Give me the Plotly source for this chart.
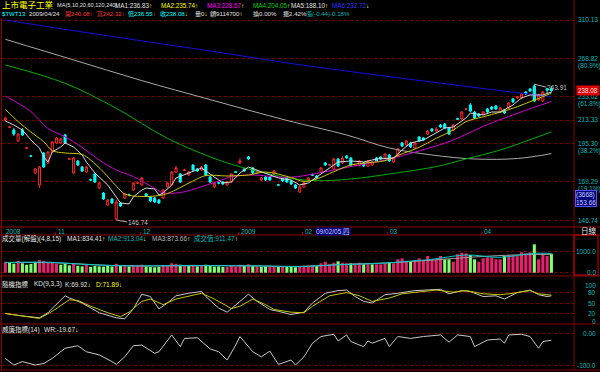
import math
import plotly.graph_objects as go

W, H = 600, 372

# ---------------- data ----------------
opens = [213.33, 207.6, 205.49, 197.22, 205.49, 191.9, 186.5, 174.96, 167.28, 188.56,
         181.63, 189.26, 195.75, 195.75, 201.69, 184.2, 174.96, 183.00, 178.93, 175.62,
         170.6, 174.31, 165.41, 162.35, 155.21, 158.75, 147.30, 156.39, 159.34, 161.2,
         164.17, 168.4, 167.28, 161.74, 159.94, 159.34, 158.15, 159.34, 166.04, 167.28,
         175.62, 174.31, 176.8, 173.65, 180.27, 177.6, 176.93, 180.27, 172.36, 166.04,
         168.7, 169.17, 167.28, 169.17, 175.8, 181.63, 177.6, 185.8, 178.27, 174.96,
         170.43, 172.36, 172.36, 174.31, 167.4, 171.07, 171.72, 169.80, 167.28, 162.95,
         166.04, 170.43, 173.8, 173.01, 175.62, 181.63, 180.2, 177.60, 184.37, 181.63,
         186.4, 185.06, 180.2, 180.27, 181.63, 179.60, 180.27, 185.06, 185.8, 185.06,
         187.14, 182.32, 186.45, 195.75, 194.28, 195.75, 192.12, 200.19, 199.44, 202.45,
         206.27, 204.73, 209.38, 210.17, 207.04, 205.49, 214.3, 214.13, 222.2, 225.64,
         219.81, 218.18, 218.18, 222.29, 223.96, 224.80, 219.81, 221.46, 223.13, 230.78,
         231.64, 231.64, 236.90, 239.57, 242.27, 229.91, 229.06, 239.80, 240.08]
highs = [215.74, 208.60, 207.04, 203.21, 207.04, 193.0, 187.2, 178.27, 179.60, 189.26,
         189.97, 197.22, 200.19, 199.44, 202.45, 185.1, 185.76, 183.68, 179.60, 179.60,
         171.4, 174.96, 169.17, 162.95, 158.75, 159.34, 158.15, 156.98, 162.35, 162.0,
         169.17, 169.5, 172.36, 162.35, 160.53, 159.94, 158.75, 164.79, 169.17, 176.27,
         179.60, 174.96, 177.8, 176.27, 180.95, 178.3, 179.60, 180.95, 173.01, 169.17,
         169.3, 169.80, 169.80, 174.96, 176.3, 185.06, 178.3, 186.5, 178.93, 176.9,
         172.36, 173.01, 173.01, 176.93, 168.0, 171.7, 172.36, 170.43, 167.91, 166.66,
         169.17, 172.36, 174.6, 173.65, 178.93, 182.32, 181.0, 185.06, 185.06, 186.45,
         187.1, 185.76, 181.2, 183.68, 182.32, 183.68, 183.00, 185.76, 186.5, 188.56,
         187.85, 185.76, 192.12, 196.48, 197.95, 196.48, 196.48, 200.94, 200.19, 205.49,
         207.04, 207.82, 210.17, 210.96, 207.82, 210.17, 215.2, 220.63, 223.1, 227.35,
         220.63, 219.0, 220.63, 223.13, 224.80, 225.64, 223.96, 222.29, 228.20, 231.64,
         233.38, 236.01, 237.78, 240.47, 243.91, 235.13, 237.78, 240.20, 242.32]
lows = [212.54, 207.04, 200.94, 196.48, 200.94, 191.2, 185.8, 174.31, 165.41, 178.27,
        180.95, 188.56, 195.01, 195.01, 195.01, 183.7, 174.31, 179.60, 175.62, 174.96,
        169.6, 168.54, 164.79, 158.15, 154.64, 155.80, 146.74, 154.06, 158.75, 160.3,
        163.56, 167.9, 166.66, 159.94, 156.98, 156.39, 155.80, 158.75, 165.41, 166.66,
        174.96, 168.54, 176.2, 173.01, 176.27, 175.6, 176.27, 173.01, 168.54, 165.41,
        167.8, 167.28, 166.66, 168.54, 175.0, 180.95, 175.6, 183.7, 174.31, 174.3,
        169.80, 169.80, 169.80, 173.65, 166.5, 169.2, 168.54, 167.28, 164.79, 162.35,
        165.41, 169.80, 172.9, 171.07, 174.96, 179.60, 179.6, 176.93, 178.93, 180.95,
        184.4, 179.60, 179.6, 179.60, 178.93, 178.93, 179.60, 182.32, 183.7, 184.37,
        182.32, 181.63, 185.76, 192.84, 193.56, 192.12, 191.40, 196.48, 197.22, 201.69,
        203.97, 203.97, 207.04, 206.27, 201.69, 204.73, 213.3, 213.33, 221.5, 219.81,
        214.13, 215.7, 217.36, 218.99, 221.46, 221.46, 218.99, 218.18, 222.29, 227.35,
        230.78, 230.78, 234.25, 236.90, 228.20, 229.06, 228.20, 235.13, 236.55]
closes = [214.94, 207.8, 202.45, 202.45, 201.69, 192.1, 186.3, 177.60, 178.93, 178.93,
          189.26, 196.48, 199.44, 198.70, 195.75, 184.4, 185.06, 180.27, 176.27, 178.93,
          170.4, 169.17, 168.54, 158.75, 158.15, 156.39, 156.98, 154.64, 161.74, 161.0,
          168.54, 168.6, 171.72, 160.53, 157.56, 156.98, 156.39, 164.17, 168.54, 175.62,
          178.27, 169.17, 177.0, 175.62, 176.93, 176.3, 178.93, 173.65, 169.17, 168.54,
          168.4, 167.91, 169.17, 174.31, 175.5, 183.00, 176.3, 184.4, 174.96, 176.27,
          171.72, 170.43, 170.43, 176.27, 167.2, 169.80, 169.17, 167.91, 165.41, 166.04,
          168.54, 171.72, 173.5, 171.72, 178.27, 180.27, 180.4, 184.37, 179.60, 185.06,
          185.1, 180.27, 180.4, 183.00, 179.60, 183.00, 182.32, 183.00, 184.4, 187.85,
          183.00, 185.06, 191.40, 193.56, 197.22, 192.84, 195.75, 197.22, 197.95, 204.73,
          204.73, 206.27, 207.82, 207.04, 202.45, 209.38, 214.0, 219.81, 222.4, 220.63,
          214.94, 216.55, 219.81, 219.81, 222.29, 222.29, 223.13, 218.99, 227.35, 228.20,
          232.51, 235.13, 235.13, 237.78, 229.06, 234.25, 236.90, 238.52, 238.08]

# moving averages (bar index, price)
ma5_x = [0, 2, 4, 6, 8, 9, 10, 11, 13, 14, 16, 18, 19, 21, 24, 26, 27, 29, 30, 32, 33, 35, 36, 37,
         39, 40, 43, 45, 46, 49, 51, 53, 55, 57, 60, 62, 64, 67, 69, 71, 73, 76, 78, 81, 84, 87,
         91, 93, 95, 98, 101, 103, 105, 108, 109, 112, 114, 116, 119, 121, 123, 126, 128]
ma5_y = [212.54, 209.38, 205.49, 197.95, 192.12, 185.76, 182.32, 189.26, 192.84, 195.75, 192.84,
         187.14, 182.32, 174.96, 167.28, 159.94, 156.39, 155.80, 159.94, 164.17, 165.41, 164.79,
         161.13, 162.35, 167.28, 171.72, 174.96, 176.93, 178.27, 172.36, 168.54, 169.17, 174.96,
         178.93, 175.62, 173.65, 171.72, 170.43, 167.28, 168.54, 172.36, 178.27, 182.32, 183.00,
         182.32, 184.37, 185.06, 190.68, 195.75, 197.95, 203.21, 207.04, 207.82, 214.94, 218.99,
         217.36, 219.81, 219.81, 225.64, 231.64, 234.25, 234.25, 236.83]
ma10_x = [0, 3, 6, 9, 11, 14, 18, 20, 23, 26, 28, 32, 36, 38, 41, 44, 47, 52, 57, 61, 67, 70, 73,
          77, 81, 85, 89, 93, 97, 101, 105, 108, 112, 116, 120, 124, 128]
ma10_y = [222.1, 212.0, 203.97, 196.7, 190.3, 188.56, 187.5, 183.68, 175.62, 166.66, 161.74, 160.2,
          160.8, 162.0, 165.7, 169.8, 173.3, 173.0, 173.65, 175.6, 172.0, 169.5, 171.07, 175.8,
          180.27, 181.8, 183.2, 188.0, 192.6, 199.2, 205.49, 212.0, 215.9, 219.6, 224.2, 229.9,
          235.74]
ma20_x = [0, 6, 10, 14, 18, 22, 26, 30, 35, 37, 41, 46, 50, 53, 58, 63, 67, 73, 81, 89, 97, 105,
          112, 120, 128]
ma20_y = [233.4, 220.1, 206.6, 200.4, 192.6, 183.68, 176.93, 172.6, 165.2, 162.5, 162.6, 166.2,
          169.8, 172.6, 173.65, 172.6, 172.2, 174.7, 179.2, 183.68, 189.97, 197.95, 208.3, 218.7,
          228.67]
ma60_x = [0, 14, 26, 38, 50, 57, 67, 73, 81, 91, 101, 108, 116, 128]
ma60_y = [262.1, 244.73, 222.9, 199.2, 183.68, 177.6, 171.5, 170.0, 171.07, 174.7, 179.2, 184.4,
          190.68, 204.05]
ma120_x = [0, 16, 32, 48, 66, 80, 90, 100, 110, 120, 128]
ma120_y = [288.5, 267.1, 247.2, 230.25, 213.0, 201.69, 192.12, 187.14, 184.37, 184.7, 188.10]
ma240_x = [0, 16, 32, 48, 66, 80, 96, 112, 128]
ma240_y = [310.13, 297.96, 286.8, 276.2, 264.2, 256.2, 247.86, 240.0, 232.72]

volume = [520, 480, 430, 560, 450, 380, 420, 480, 600, 560, 480, 520,
          430, 380, 420, 350, 460, 330, 300, 360, 280, 320, 300, 290, 340, 300, 420, 330, 310, 300,
          360, 330,
          380, 300, 280, 260, 280, 360, 330, 450, 420, 380, 330, 340, 380, 300, 330, 380, 320, 290,
          300, 270, 280, 330, 300,
          380, 330, 400, 330, 300, 280, 300, 290, 320, 270, 280, 300, 290, 260,
          286, 333, 333, 367, 319, 448, 524, 400, 476, 543, 476, 448, 448, 448, 476, 400, 410, 400,
          400, 400, 448, 510, 448, 638, 686, 571, 524, 605, 686, 605, 795, 638, 638, 795, 638, 638,
          524, 876, 952, 924, 843, 638, 524, 686, 733, 733, 638, 638, 795, 843, 843, 795, 971, 924,
          971, 1352, 638, 924, 795, 900]
vma8_x = [0, 10, 20, 30, 40, 50, 60, 69, 77, 88, 96, 100, 108, 116, 124, 128]
vma8_y = [480, 500, 380, 320, 340, 330, 320, 290, 367, 448, 571, 638, 843, 733, 924, 913]
vma15_x = [0, 12, 24, 36, 48, 60, 69, 80, 90, 100, 110, 120, 128]
vma15_y = [490, 470, 350, 320, 340, 320, 300, 400, 470, 600, 750, 850, 874]

k_x = [0, 3, 8, 10, 14, 15, 18, 22, 26, 28, 30, 32, 34, 36, 38, 40, 43, 46, 47, 50, 52, 55, 57,
       59, 62, 64, 67, 70, 72, 75, 78, 80, 82, 84, 86, 89, 92, 96, 99, 102, 104, 107, 109, 112,
       115, 117, 120, 123, 125, 127, 128]
k_v = [21, 15.5, 9, 23, 70, 64, 50, 23, 9, 6, 33.6, 74.5, 68, 33.6, 50, 70, 77, 82, 68, 36, 24.5,
       54.5, 74.5, 54.5, 32, 27, 18, 24.5, 50, 77, 84.5, 86, 68, 54.5, 50, 73, 77, 84.5, 86, 88,
       75.5, 84.5, 82, 68, 70, 61, 79, 86, 73, 68, 69.92]
d_x = [0, 4, 8, 11, 15, 17, 20, 24, 27, 29, 32, 34, 37, 40, 44, 46, 49, 53, 55, 58, 61, 63, 67,
       70, 72, 76, 80, 83, 86, 90, 93, 98, 101, 105, 108, 112, 116, 119, 123, 125, 128]
d_v = [21, 13.6, 7, 27, 59, 57, 41, 23, 12, 24.5, 54.5, 61, 45.5, 61, 73, 77, 61, 34.5, 41, 61,
       45.5, 32, 24.5, 23, 41, 70, 79, 70, 54.5, 63.6, 75.5, 82, 86, 80, 84.5, 75.5, 73, 77, 84.5,
       75.5, 71.89]
wr_x = [0, 2, 4, 7, 9, 11, 14, 17, 19, 22, 25, 26, 28, 30, 32, 35, 36, 39, 41, 42, 45, 48, 50,
        52, 54, 55, 58, 60, 62, 64, 67, 68, 70, 72, 74, 77, 78, 80, 81, 84, 85, 86, 89, 90, 92,
        95, 98, 102, 104, 106, 109, 110, 113, 116, 117, 118, 121, 123, 125, 126, 128]
wr_v = [-77, -98, -87, -98, -93, -77, -45, -37, -56, -66, -87, -96, -72, -37, -35, -61, -56, -3,
        -40, -14, -12, -47, -56, -82, -35, -8, -56, -72, -54, -96, -82, -98, -72, -29, -8, -1,
        -22, -3, -24, -40, -22, -29, -14, -40, -8, -14, -8, -3, -26, -3, -8, -40, -19, -16, -29,
        -3, -1, -8, -45, -24, -19.67]

month_idx = [0, 12, 32, 55, 70, 90, 112]
month_lbl = ["2008", "11", "12", "2009", "02", "03", "04"]

price_levels = [310.13, 268.82, 233.02, 213.33, 195.30, 169.29, 146.74]
level_pct = ["", "(80.9%)", "(61.8%)", "", "(38.2%)", "(19.1%)", ""]

# ---------------- style ----------------
FONT = "Liberation Sans, Noto Sans CJK TC"
BG = "#000000"
GRID = "#7a0000"
FRAME = "#8c0000"
TEAL = "#00b8b8"
WHITE = "#e0e0e0"
YEL = "#ffff00"
MAG = "#ff00ff"
GRN = "#00d000"
BLU = "#3535ff"
CYAN = "#00ffff"
RED = "#ff3a3a"
FS = 6.5


def dom(top, bot):
    return [1 - bot / H, 1 - top / H]


def arrow(a, c=YEL):
    return f"<span style='color:{c}'>{a}</span>"


fig = go.Figure()

fig.add_trace(go.Candlestick(
    x=list(range(len(opens))), open=opens, high=highs, low=lows, close=closes,
    increasing=dict(line=dict(color="#ff2828", width=1), fillcolor="#000000"),
    decreasing=dict(line=dict(color=CYAN, width=1), fillcolor=CYAN),
    whiskerwidth=0, xaxis="x", yaxis="y", showlegend=False, hoverinfo="skip"))

for xs, ys, col, shp in [(ma240_x, ma240_y, "#1010e0", "spline"),
                         (ma120_x, ma120_y, "#a8a8a8", "spline"),
                         (ma60_x, ma60_y, "#00b000", "spline"),
                         (ma20_x, ma20_y, "#d000d0", "spline"),
                         (ma10_x, ma10_y, "#c8c800", "spline"),
                         (ma5_x, ma5_y, "#d8d8d8", "linear")]:
    fig.add_trace(go.Scatter(x=xs, y=ys, mode="lines", line=dict(color=col, width=1, shape=shp),
                             xaxis="x", yaxis="y", showlegend=False, hoverinfo="skip"))

vcol = ["#e8206e" if i == 0 or closes[i] >= closes[i - 1] else "#80ff70"
        for i in range(len(volume))]
fig.add_trace(go.Bar(x=list(range(len(volume))), y=volume, marker=dict(color=vcol, line=dict(width=0)),
                     width=0.72, xaxis="x", yaxis="y2", showlegend=False, hoverinfo="skip"))
fig.add_trace(go.Scatter(x=vma15_x, y=vma15_y, mode="lines", line=dict(color="#a0a0a0", width=1, shape="spline"),
                         xaxis="x", yaxis="y2", showlegend=False, hoverinfo="skip"))
fig.add_trace(go.Scatter(x=vma8_x, y=vma8_y, mode="lines", line=dict(color="#00c8c8", width=1, shape="spline"),
                         xaxis="x", yaxis="y2", showlegend=False, hoverinfo="skip"))

fig.add_trace(go.Scatter(x=k_x, y=k_v, mode="lines", line=dict(color="#c8c8c8", width=1),
                         xaxis="x", yaxis="y3", showlegend=False, hoverinfo="skip"))
fig.add_trace(go.Scatter(x=d_x, y=d_v, mode="lines", line=dict(color="#c8c800", width=1),
                         xaxis="x", yaxis="y3", showlegend=False, hoverinfo="skip"))
fig.add_trace(go.Scatter(x=wr_x, y=wr_v, mode="lines", line=dict(color="#c8c8c8", width=1),
                         xaxis="x", yaxis="y4", showlegend=False, hoverinfo="skip"))

lo_log = math.log10(price_levels[-1])
hi_log = math.log10(price_levels[0])
per_px = (hi_log - lo_log) / 200.0

ycommon = dict(showticklabels=False, zeroline=False, showline=False, ticks="",
               showgrid=True, gridcolor=GRID, griddash="dot", gridwidth=1, fixedrange=True)

fig.update_layout(
    width=W, height=H, margin=dict(l=0, r=0, t=0, b=0),
    paper_bgcolor=BG, plot_bgcolor=BG, showlegend=False,
    xaxis=dict(domain=[2 / W, 574 / W], range=[-0.78, 133.3], showgrid=False, zeroline=False,
               showticklabels=False, ticks="", rangeslider=dict(visible=False), fixedrange=True),
    yaxis=dict(domain=dom(11, 227), type="log",
               range=[lo_log - 7 * per_px, hi_log + 9 * per_px],
               tickvals=price_levels, anchor="x", **ycommon),
    yaxis2=dict(domain=dom(235, 275), range=[-109.5, 1795], tickvals=[0, 1000], anchor="x", **ycommon),
    yaxis3=dict(domain=dom(277, 324), range=[-8.3, 122.2], tickvals=[20, 50, 80], anchor="x", **ycommon),
    yaxis4=dict(domain=dom(324, 370), range=[-113.6, 31.5], tickvals=[0, -100], anchor="x", **ycommon),
)

ann = []


def txt(x, y, s, color, size=FS, xanchor="left", **kw):
    d = dict(xref="paper", yref="paper", x=x / W, y=1 - y / H, text=s, showarrow=False,
             xanchor=xanchor, yanchor="middle", borderpad=0,
             font=dict(family=FONT, size=size, color=color))
    d.update(kw)
    ann.append(d)


# header row 1
txt(1, 5.5, "上市電子工業", YEL, size=8.5)
txt(56, 5.5, "MA(5,10,20,60,120,240)", WHITE, size=5.6)
for x0, s, c, a in [(114, "MA1:236.83", WHITE, "↑"), (160, "MA2:235.74", YEL, "↑"),
                    (206, "MA3:228.67", MAG, "↑"), (252, "MA4:204.05", GRN, "↑"),
                    (290, "MA5:188.10", WHITE, "↑"), (331, "MA6:232.72", BLU, "↓")]:
    txt(x0, 5.5, s + arrow(a), c, size=6.3)
# header row 2
FS2 = 6.1
for x0, s, c in [(1, "$TWT13", CYAN), (28, "2009/04/24", WHITE),
                 (64, "開240.08" + arrow("↑", RED), RED), (96, "高242.32" + arrow("↑", RED), RED),
                 (127, "低236.55" + arrow("↑", RED), CYAN), (159, "收238.08" + arrow("↓"), CYAN),
                 (194, "量0" + arrow("↓"), WHITE), (209, "額9114700" + arrow("↑"), WHITE),
                 (252, "換0.00%", WHITE), (282, "振2.42%", WHITE), (305, "漲(-0.44)-0.18%", TEAL)]:
    txt(x0, 14, s, c, size=FS2)

# price axis labels
for v, p in zip(price_levels, level_pct):
    ann.append(dict(xref="paper", yref="y", x=577 / W, y=math.log10(v), text=f"{v:.2f}",
                    showarrow=False, xanchor="left", yanchor="middle", borderpad=0,
                    font=dict(family=FONT, size=FS, color=TEAL)))
    if p:
        ann.append(dict(xref="paper", yref="y", x=577 / W, y=math.log10(v), yshift=-7.5, text=p,
                        showarrow=False, xanchor="left", yanchor="middle", borderpad=0,
                        font=dict(family=FONT, size=FS, color=TEAL)))
# last price tag
ann.append(dict(xref="paper", yref="y", x=576 / W, y=math.log10(closes[-1]), text=f"{closes[-1]:.2f}",
                showarrow=False, xanchor="left", yanchor="middle", bgcolor="#e00000",
                borderpad=1, font=dict(family=FONT, size=6.3, color="#ffe8e8")))
# cursor readout box
txt(575, 198.5, "(3668)<br>153.66", "#d0d0ff", bgcolor="#00007a", bordercolor="#5050ff",
    borderwidth=1, align="left")

# extreme markers
imax = max(range(len(highs)), key=lambda i: highs[i])
imin = min(range(len(lows)), key=lambda i: lows[i])
ann.append(dict(xref="x", yref="y", x=imax, y=math.log10(highs[imax]), text=f"{highs[imax]:.2f}",
                showarrow=True, arrowhead=0, arrowwidth=1, arrowcolor="#b0b0b0", ax=12, ay=3,
                xanchor="left", standoff=0, borderpad=0, font=dict(family=FONT, size=FS, color="#c0c0c0")))
ann.append(dict(xref="x", yref="y", x=imin, y=math.log10(lows[imin]), text=f"{lows[imin]:.2f}",
                showarrow=True, arrowhead=0, arrowwidth=1, arrowcolor="#b0b0b0", ax=11, ay=2,
                xanchor="left", standoff=0, borderpad=0, font=dict(family=FONT, size=FS, color="#c0c0c0")))

# date row
for i, lbl in zip(month_idx, month_lbl):
    ann.append(dict(xref="x", yref="paper", x=i, y=1 - 231 / H, text=lbl, showarrow=False,
                    xanchor="left", yanchor="middle", borderpad=0,
                    font=dict(family=FONT, size=FS, color=TEAL)))
txt(315, 231, "09/02/05,四", "#c8c8ff", bgcolor="#00007a")
txt(580, 231, "日線", WHITE, size=7.5)

# panel titles
txt(1, 238.5, "成交量(解盤)(4,8,15)", WHITE)
txt(66, 238.5, "MA1:834.41" + arrow("↑"), WHITE)
txt(107, 238.5, "MA2:913.04" + arrow("↓"), TEAL)
txt(151, 238.5, "MA3:873.66" + arrow("↑"), "#b8b8b8")
txt(193, 238.5, "成交值:911.47" + arrow("↑"), TEAL)

txt(1, 284, "隨機指標", WHITE)
txt(33, 284, "KD(9,3,3)", WHITE)
txt(64, 284, "K:69.92" + arrow("↓"), WHITE)
txt(95, 284, "D:71.89" + arrow("↓"), YEL)

txt(1, 329, "威廉指標(14)", WHITE)
txt(43, 329, "WR:-19.67" + arrow("↓"), WHITE)

for yr, vals in [("y2", [(1000, "1000.0"), (0, "0.0")]),
                 ("y3", [(100, "100"), (80, "80"), (50, "50"), (20, "20"), (0, "0")]),
                 ("y4", [(0, "0.00"), (-100, "-100.0")])]:
    for v, s in vals:
        ann.append(dict(xref="paper", yref=yr, x=597 / W, y=v, text=s, showarrow=False,
                        xanchor="right", yanchor="middle", borderpad=0,
                        font=dict(family=FONT, size=FS, color=TEAL)))

shapes = []


def pline(x0, y0, x1, y1, color=FRAME, w=1):
    shapes.append(dict(type="line", xref="paper", yref="paper", x0=x0 / W, x1=x1 / W,
                       y0=1 - y0 / H, y1=1 - y1 / H, line=dict(color=color, width=w)))


for yy in [227, 235, 276, 324, 370]:
    pline(0, yy, 600, yy)
pline(1.5, 18, 1.5, 370)
pline(574, 0, 574, 370)
shapes.append(dict(type="rect", xref="paper", yref="paper", x0=574 / W, x1=598 / W,
                   y0=1 - 275 / H, y1=1 - 235 / H, line=dict(color="#d00000", width=1)))
for i in month_idx[1:]:
    shapes.append(dict(type="line", xref="x", yref="paper", x0=i - 0.3, x1=i - 0.3,
                       y0=1 - 235 / H, y1=1 - 232 / H, line=dict(color="#c00000", width=1)))

fig.update_layout(annotations=ann, shapes=shapes)
fig.write_html("out.html", config={"displayModeBar": False},
               post_script="document.body.style.margin='0';document.body.style.overflow='hidden';")
